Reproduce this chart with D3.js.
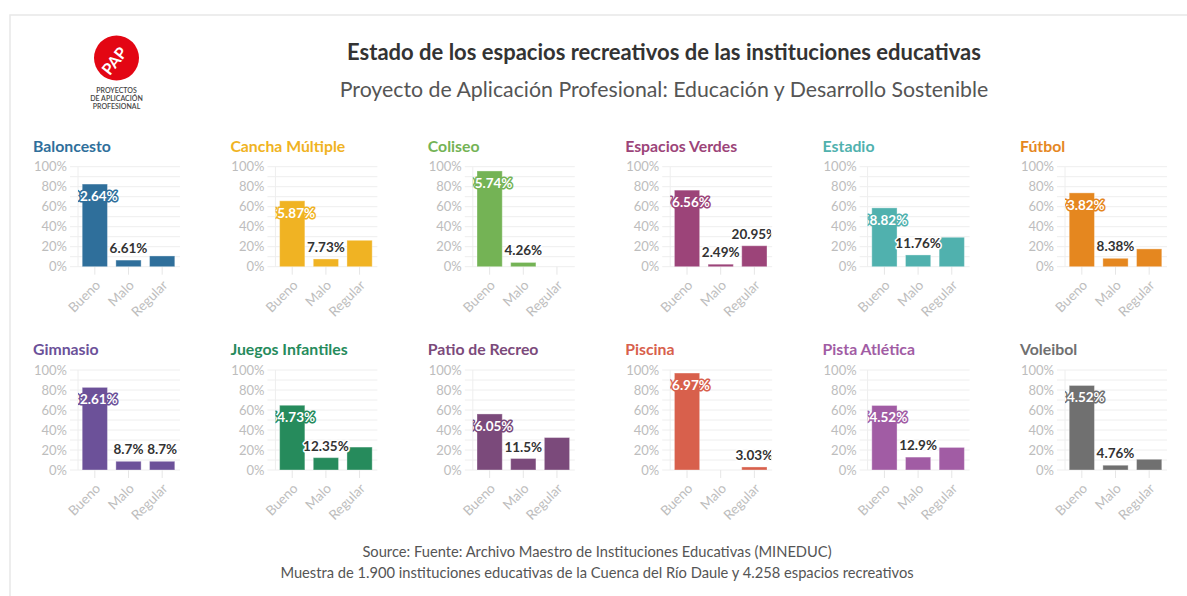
<!DOCTYPE html>
<html>
<head>
<meta charset="utf-8">
<script src="https://cdn.jsdelivr.net/npm/d3@7"></script>
<style>
  body { margin: 0; background: #fff; }
  svg { display: block; font-family: Lato, "Noto Sans", sans-serif; }
</style>
</head>
<body>
<svg id="chart" width="1187" height="596"></svg>
<script>
// datos de los espacios recreativos (porcentajes por estado)
let facilities = ['Baloncesto', 'Cancha Múltiple', 'Coliseo', 'Espacios Verdes', 'Estadio', 'Fútbol',
                  'Gimnasio', 'Juegos Infantiles', 'Patio de Recreo', 'Piscina', 'Pista Atlética', 'Voleibol']
let estados = ['Bueno', 'Malo', 'Regular']
let bueno   = [82.64, 65.87, 95.74, 76.56, 58.82, 73.82, 82.61, 64.73, 56.05, 96.97, 64.52, 84.52]
let malo    = [6.61, 7.73, 4.26, 2.49, 11.76, 8.38, 8.7, 12.35, 11.5, 0, 12.9, 4.76]
let regular = [10.75, 26.4, 0, 20.95, 29.42, 17.8, 8.7, 22.92, 32.45, 3.03, 22.58, 10.72]
let yTicks = [0, 20, 40, 60, 80, 100]
let regularLabelShown = ['Espacios Verdes', 'Gimnasio', 'Piscina']

let colors = ['#2f6f9b', '#f0b323', '#74b355', '#9c4479', '#50b1ae', '#e5871f',
              '#6c5199', '#268b5c', '#7b4a7b', '#d8604c', '#a15ca4', '#707070']

let svg = d3.select('#chart')

// marco
svg.append('path')
    .attr('d', 'M10,596V15H1187')
    .attr('fill', 'none')
    .attr('stroke', '#e8e8e8')
    .attr('stroke-width', 1.5)

// logo PAP
let logo = svg.append('g').attr('transform', 'translate(116.5,58)')
logo.append('circle').attr('r', 22.5).attr('fill', '#e30613')
logo.append('text')
    .attr('transform', 'translate(-2,3) rotate(-52)')
    .attr('text-anchor', 'middle')
    .attr('dy', '0.35em')
    .attr('fill', '#fff')
    .attr('font-weight', 700)
    .attr('font-size', 16)
    .text('PAP')
;['PROYECTOS', 'DE APLICACIÓN', 'PROFESIONAL'].forEach((t, i) => {
    logo.append('text')
        .attr('x', 0)
        .attr('y', 34.5 + i * 8.2)
        .attr('text-anchor', 'middle')
        .attr('fill', '#444')
        .attr('font-weight', 600)
        .attr('font-size', 7)
        .text(t)
})

// títulos
svg.append('text')
    .attr('x', 664).attr('y', 60)
    .attr('text-anchor', 'middle')
    .attr('font-size', 22)
    .attr('font-weight', 700)
    .attr('fill', '#333')
    .text('Estado de los espacios recreativos de las instituciones educativas')
svg.append('text')
    .attr('x', 664).attr('y', 97)
    .attr('text-anchor', 'middle')
    .attr('font-size', 21.3)
    .attr('fill', '#555')
    .text('Proyecto de Aplicación Profesional: Educación y Desarrollo Sostenible')

// fuente
svg.append('text')
    .attr('x', 597).attr('y', 557)
    .attr('text-anchor', 'middle')
    .attr('font-size', 14.7)
    .attr('fill', '#555')
    .text('Source: Fuente: Archivo Maestro de Instituciones Educativas (MINEDUC)')
svg.append('text')
    .attr('x', 597).attr('y', 578)
    .attr('text-anchor', 'middle')
    .attr('font-size', 14.7)
    .attr('fill', '#555')
    .text('Muestra de 1.900 instituciones educativas de la Cuenca del Río Daule y 4.258 espacios recreativos')

let plotW = 101
let plotH = 100
let y = d3.scaleLinear().domain([0, 100]).range([plotH, 0])
let x = d3.scaleBand().domain(estados).range([0, plotW]).paddingInner(0.25).paddingOuter(0.125)
let fmt = (v) => (+v.toFixed(2)) + '%'

let drawPanel = (name, i) => {
    let col = i % 6
    let row = Math.floor(i / 6)
    let left = 78 + col * 197.4
    let top = row === 0 ? 166.7 : 370
    let color = colors[i]
    let values = [bueno[i], malo[i], regular[i]]

    let g = svg.append('g').attr('transform', `translate(${left},${top})`)

    g.append('text')
        .attr('x', -45).attr('y', -15)
        .attr('font-size', 15.8)
        .attr('font-weight', 700)
        .attr('fill', color)
        .text(name)

    // rejilla
    g.append('g').selectAll('line')
        .data(y.ticks(10))
        .enter()
        .append('line')
        .attr('x1', -8).attr('x2', plotW + 1)
        .attr('y1', (d) => y(d)).attr('y2', (d) => y(d))
        .attr('stroke', '#eeeeee')
    g.append('line')
        .attr('x1', 0).attr('x2', 0)
        .attr('y1', 0).attr('y2', plotH)
        .attr('stroke', '#eeeeee')

    let yAxis = g.append('g')
        .call(d3.axisLeft(y).tickValues(yTicks).tickFormat((d) => d + '%').tickSize(0).tickPadding(11))
    yAxis.select('.domain').remove()
    yAxis.selectAll('text')
        .attr('fill', '#bdbdbd')
        .attr('font-size', 13)
        .attr('font-family', 'Lato, sans-serif')

    let xAxis = g.append('g')
        .attr('transform', `translate(0,${plotH})`)
        .call(d3.axisBottom(x).tickSize(8).tickPadding(0))
    xAxis.select('.domain').remove()
    xAxis.selectAll('line').attr('stroke', '#e6e6e6')
    xAxis.selectAll('text')
        .attr('fill', '#bdbdbd')
        .attr('font-size', 13.5)
        .attr('font-family', 'Lato, sans-serif')
        .attr('text-anchor', 'end')
        .attr('y', 0)
        .attr('dy', '0.35em')
        .attr('transform', 'translate(3,16) rotate(-45)')

    g.append('g').selectAll('rect')
        .data(values)
        .enter()
        .append('rect')
        .attr('x', (d, j) => x(estados[j]))
        .attr('width', x.bandwidth())
        .attr('y', (d) => y(d))
        .attr('height', (d) => plotH - y(d))
        .attr('fill', color)
        .attr('stroke', '#fff')
        .attr('stroke-opacity', 0.35)
        .attr('stroke-width', 1)

    // etiquetas, recortadas al área del gráfico
    let clipId = 'clip' + i
    g.append('clipPath').attr('id', clipId)
        .append('rect')
        .attr('x', 0).attr('y', -30)
        .attr('width', plotW).attr('height', plotH + 30)
    let labels = g.append('g').attr('clip-path', `url(#${clipId})`)

    let labelData = values.map((v, j) => ({ v, j }))
        .filter((d) => d.v > 0 && (d.j < 2 || regularLabelShown.includes(name)))

    labels.selectAll('text')
        .data(labelData)
        .enter()
        .append('text')
        .attr('x', (d) => x(estados[d.j]) + x.bandwidth() / 2)
        .attr('y', (d) => d.j === 0 ? y(d.v) + 17 : y(d.v) - 7)
        .attr('text-anchor', 'middle')
        .attr('font-size', 13.5)
        .attr('font-weight', 700)
        .attr('fill', (d) => d.j === 0 ? '#fff' : '#333')
        .attr('stroke', (d) => d.j === 0 ? color : '#fff')
        .attr('stroke-width', 3)
        .attr('stroke-linejoin', 'round')
        .attr('paint-order', 'stroke')
        .text((d) => fmt(d.v))
}

facilities.forEach(drawPanel)
</script>
</body>
</html>
